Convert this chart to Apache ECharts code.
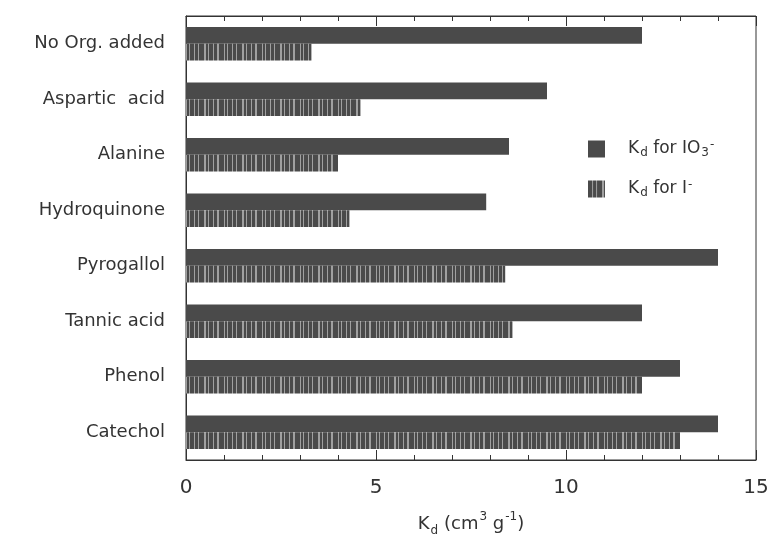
<!DOCTYPE html>
<html>
<head>
<meta charset="utf-8">
<script src="https://cdn.jsdelivr.net/npm/echarts@6/dist/echarts.min.js"></script>
<style>
html,body{margin:0;padding:0;background:#fff;}
#chart{width:769px;height:541px;}
</style>
</head>
<body>
<div id="chart"></div>
<script>
var categories = ['No Org. added','Aspartic  acid','Alanine','Hydroquinone','Pyrogallol','Tannic acid','Phenol','Catechol'];
var kdIO3 = [12.0, 9.5, 8.5, 7.9, 14.0, 12.0, 13.0, 14.0];
var kdI = [3.3, 4.6, 4.0, 4.3, 8.4, 8.6, 12.0, 13.0];
var xTicks = [0, 5, 10, 15];

function stripePattern() {
  var c = document.createElement('canvas');
  var stripes = [4,1,3,1,5,2,2,1,4,1,3,2,5,1,2,1];
  var w = 0; stripes.forEach(function(s){ w += s; });
  c.width = w; c.height = 4;
  var ctx = c.getContext('2d');
  var x = 0;
  stripes.forEach(function(s, i){
    ctx.fillStyle = (i % 2 === 0) ? '#4a4a4a' : '#a0a0a0';
    ctx.fillRect(x, 0, s, 4);
    x += s;
  });
  return {image: c, repeat: 'repeat'};
}

var font = 'DejaVu Sans';
var chart = echarts.init(document.getElementById('chart'));
var axisCommon = {
  type: 'value', min: 0, max: 15, interval: 5,
  axisLine: {show: true, lineStyle: {color: '#333', width: 1}},
  axisTick: {show: true, inside: true, length: 10, lineStyle: {color: '#333'}},
  minorTick: {show: true, splitNumber: 5, length: 5, lineStyle: {color: '#333'}},
  splitLine: {show: false}
};
chart.setOption({
  animation: false,
  backgroundColor: '#fff',
  grid: {left: 186, right: 13, top: 16, bottom: 81, containLabel: false, outerBoundsMode: 'none',
         show: true, borderColor: '#333', borderWidth: 1},
  legend: {
    orient: 'vertical', left: 583, top: 134, itemWidth: 17, itemHeight: 17, itemGap: 20,
    icon: 'rect',
    data: ['IO3', 'I'],
    formatter: function(name){
      return name === 'IO3' ? 'K{sub|d} for IO{sub|3}{sup|-}' : 'K{sub|d} for I{sup|-}';
    },
    textStyle: {
      fontFamily: font, fontSize: 17, color: '#333', padding: [0,0,0,18], lineHeight: 20,
      rich: {
        sub: {fontFamily: font, fontSize: 12, color: '#333', verticalAlign: 'bottom', padding: [10,0,0,1]},
        sup: {fontFamily: font, fontSize: 12, color: '#333', verticalAlign: 'top', padding: [0,0,8,1]}
      }
    }
  },
  xAxis: [
    Object.assign({}, axisCommon, {
      position: 'bottom',
      axisLabel: {show: true, fontFamily: font, fontSize: 20, color: '#333', margin: 18},
      name: 'K{sub|d} (cm{sup|3} g{sup|-1})',
      nameLocation: 'middle', nameGap: 51,
      nameTextStyle: {
        fontFamily: font, fontSize: 18, color: '#333',
        rich: {
          sub: {fontFamily: font, fontSize: 12, color: '#333', verticalAlign: 'bottom', padding: [14,0,0,1]},
          sup: {fontFamily: font, fontSize: 12, color: '#333', verticalAlign: 'top', padding: [0,0,12,1]}
        }
      }
    }),
    Object.assign({}, axisCommon, {
      position: 'top',
      axisLabel: {show: false}
    })
  ],
  yAxis: {
    type: 'category', data: categories, inverse: true,
    axisLine: {show: true, lineStyle: {color: '#333'}},
    axisTick: {show: false},
    axisLabel: {fontFamily: font, fontSize: 18, color: '#333', margin: 21}
  },
  series: [
    {name: 'IO3', type: 'bar', data: kdIO3, barGap: '0%', barCategoryGap: '40%',
     itemStyle: {color: '#4a4a4a'}},
    {name: 'I', type: 'bar', data: kdI, barGap: '0%', barCategoryGap: '40%',
     itemStyle: {color: stripePattern()}}
  ]
});
</script>
</body>
</html>
